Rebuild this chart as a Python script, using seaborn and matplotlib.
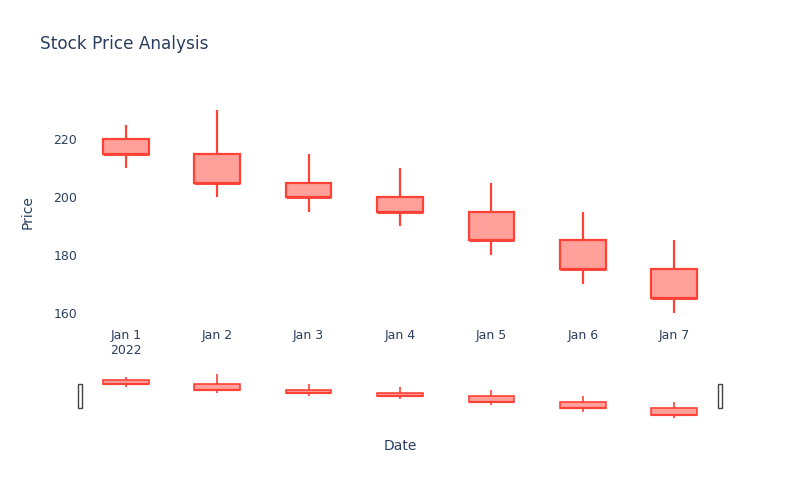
import pandas as pd
import numpy as np
import matplotlib
matplotlib.use('Agg')
import matplotlib.pyplot as plt
import matplotlib.dates as mdates
from matplotlib.patches import Rectangle
import seaborn as sns

dates = ['2022-01-01', '2022-01-02', '2022-01-03', '2022-01-04',
         '2022-01-05', '2022-01-06', '2022-01-07']
open_ = [220, 215, 205, 200, 195, 185, 175]
high = [225, 230, 215, 210, 205, 195, 185]
low = [210, 200, 195, 190, 180, 170, 160]
close = [215, 205, 200, 195, 185, 175, 165]
tick_labels = ['Jan 1\n2022', 'Jan 2', 'Jan 3', 'Jan 4', 'Jan 5', 'Jan 6', 'Jan 7']

df = pd.DataFrame({'date': pd.to_datetime(dates), 'open': open_, 'high': high,
                   'low': low, 'close': close})
df['x'] = mdates.date2num(df['date'])

sns.set_theme(style='white')
plt.rcParams['font.family'] = ['DejaVu Sans']

text_col = '#2a3f5f'
line_col = '#FF4136'
fill_col = '#FFA09B'

fig = plt.figure(figsize=(8, 5), dpi=100)
ax = fig.add_axes([0.1, 0.354, 0.8, 0.446])
rs = fig.add_axes([0.1, 0.16, 0.8, 0.096])

ymin = df['low'].min()
ymax = df['high'].max()
pad = (ymax - ymin) * 0.05
xlim = (df['x'].min() - 0.5, df['x'].max() + 0.5)


def draw_candles(a, lw, width=0.5):
    a.vlines(df['x'], df['low'], df['high'], color=line_col, lw=lw, zorder=1)
    lo = np.minimum(df['open'], df['close'])
    hi = np.maximum(df['open'], df['close'])
    a.bar(df['x'], hi - lo, bottom=lo, width=width, color=fill_col,
          edgecolor=line_col, linewidth=lw, zorder=2)
    # close line drawn over the body edge (plotly draws it thicker)
    a.hlines(df['close'], df['x'] - width / 2, df['x'] + width / 2,
             color=line_col, lw=lw * 1.3, zorder=3)


draw_candles(ax, 1.6)
ax.set_xlim(*xlim)
ax.set_ylim(ymin - pad, ymax + pad)
ax.set_yticks([160, 180, 200, 220])
ax.set_xticks(df['x'])
ax.set_xticklabels(tick_labels)
ax.tick_params(axis='both', length=0, labelsize=9, colors=text_col)
ax.tick_params(axis='y', pad=2)
ax.tick_params(axis='x', pad=4)
for s in ax.spines.values():
    s.set_visible(False)
ax.grid(False)

draw_candles(rs, 1.2)
rs.set_xlim(*xlim)
rs.set_ylim(ymin - pad, ymax + pad)
rs.set_xticks([])
rs.set_yticks([])
for s in rs.spines.values():
    s.set_visible(False)
rs.grid(False)

# range slider handles
for hx in (0.0, 1.0):
    rs.add_patch(Rectangle((hx - 2.0 / 640, 0.25), 4.0 / 640, 0.5,
                           transform=rs.transAxes, facecolor='white',
                           edgecolor='#444444', lw=1, clip_on=False, zorder=5))

fig.text(0.05, 1 - 44 / 500, 'Stock Price Analysis', fontsize=12.2,
         color=text_col, ha='left', va='center')
fig.text(28 / 800, 1 - 212 / 500, 'Price', fontsize=10, color=text_col,
         rotation=90, ha='center', va='center')
fig.text(0.5, 1 - 446 / 500, 'Date', fontsize=10, color=text_col,
         ha='center', va='center')

fig.savefig('out.png', dpi=100)
